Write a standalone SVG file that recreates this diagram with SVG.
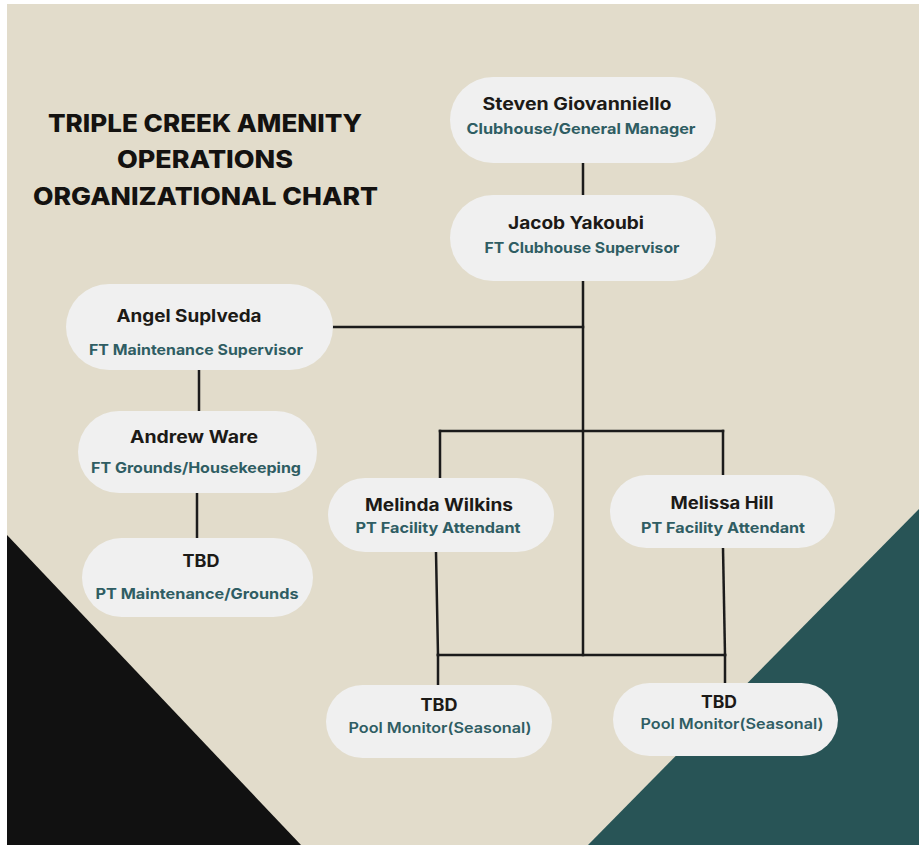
<svg xmlns="http://www.w3.org/2000/svg" width="922" height="845" viewBox="0 0 922 845">
<style>
.node rect{fill:#f0f0f0;}
.nm{font-family:Inter,"Liberation Sans",sans-serif;font-weight:700;font-size:17px;fill:#1c1a17;text-anchor:middle;}
.rl{font-family:Inter,"Liberation Sans",sans-serif;font-weight:700;font-size:14.5px;fill:#2f5d63;text-anchor:middle;}
.ttl{font-family:Inter,"Liberation Sans",sans-serif;font-weight:800;font-size:24px;fill:#141210;}
#connectors line{stroke:#1b1b1b;stroke-width:2.5;stroke-linecap:square;}
</style>
<rect x="0" y="0" width="922" height="845" fill="#ffffff"/>
<rect x="7" y="4" width="912" height="841" fill="#e2dccb"/>
<polygon points="7,535 7,845 301,845" fill="#111111"/>
<polygon points="919,509 919,845 588,845" fill="#285456"/>
<g id="title">
<text class="ttl" x="48" y="132" textLength="314" lengthAdjust="spacingAndGlyphs">TRIPLE CREEK AMENITY</text>
<text class="ttl" x="117" y="168" textLength="176" lengthAdjust="spacingAndGlyphs">OPERATIONS</text>
<text class="ttl" x="33" y="205" textLength="345" lengthAdjust="spacingAndGlyphs">ORGANIZATIONAL CHART</text>
</g>
<g id="connectors">
<line x1="583" y1="163" x2="583" y2="195"/>
<line x1="583" y1="281" x2="583" y2="655"/>
<line x1="333" y1="327" x2="583" y2="327"/>
<line x1="199" y1="370" x2="199" y2="410"/>
<line x1="197" y1="493" x2="197" y2="537"/>
<line x1="440" y1="431" x2="723" y2="431"/>
<line x1="440" y1="431" x2="440" y2="478"/>
<line x1="723" y1="431" x2="723" y2="476"/>
<line x1="436" y1="552" x2="438" y2="655"/>
<line x1="723" y1="548" x2="725" y2="655"/>
<line x1="438" y1="655" x2="725" y2="655"/>
<line x1="438" y1="655" x2="438" y2="685"/>
<line x1="725" y1="655" x2="725" y2="683"/>
</g>
<g id="steven" class="node">
<rect x="450" y="77" width="266" height="86" rx="43"/>
<text class="nm" x="577" y="110" textLength="189" lengthAdjust="spacingAndGlyphs">Steven Giovanniello</text>
<text class="rl" x="581" y="134" textLength="229" lengthAdjust="spacingAndGlyphs">Clubhouse/General Manager</text>
</g>
<g id="jacob" class="node">
<rect x="450" y="195" width="266" height="86" rx="43"/>
<text class="nm" x="576" y="229" textLength="136" lengthAdjust="spacingAndGlyphs">Jacob Yakoubi</text>
<text class="rl" x="582" y="253" textLength="195" lengthAdjust="spacingAndGlyphs">FT Clubhouse Supervisor</text>
</g>
<g id="angel" class="node">
<rect x="66" y="284" width="267" height="86" rx="43"/>
<text class="nm" x="189" y="322" textLength="145" lengthAdjust="spacingAndGlyphs">Angel Suplveda</text>
<text class="rl" x="196" y="355" textLength="214" lengthAdjust="spacingAndGlyphs">FT Maintenance Supervisor</text>
</g>
<g id="andrew" class="node">
<rect x="78" y="411" width="239" height="82" rx="41"/>
<text class="nm" x="194" y="443" textLength="128" lengthAdjust="spacingAndGlyphs">Andrew Ware</text>
<text class="rl" x="196" y="473" textLength="210" lengthAdjust="spacingAndGlyphs">FT Grounds/Housekeeping</text>
</g>
<g id="tbd-maint" class="node">
<rect x="82" y="538" width="231" height="79" rx="39.5"/>
<text class="nm" x="201" y="567" textLength="37" lengthAdjust="spacingAndGlyphs">TBD</text>
<text class="rl" x="197" y="599" textLength="203" lengthAdjust="spacingAndGlyphs">PT Maintenance/Grounds</text>
</g>
<g id="melinda" class="node">
<rect x="328" y="478" width="226" height="74" rx="37"/>
<text class="nm" x="439" y="511" textLength="148" lengthAdjust="spacingAndGlyphs">Melinda Wilkins</text>
<text class="rl" x="438" y="533" textLength="165" lengthAdjust="spacingAndGlyphs">PT Facility Attendant</text>
</g>
<g id="melissa" class="node">
<rect x="610" y="475" width="225" height="73" rx="36.5"/>
<text class="nm" x="722" y="509" textLength="103" lengthAdjust="spacingAndGlyphs">Melissa Hill</text>
<text class="rl" x="723" y="533" textLength="164" lengthAdjust="spacingAndGlyphs">PT Facility Attendant</text>
</g>
<g id="pool1" class="node">
<rect x="326" y="685" width="226" height="73" rx="36.5"/>
<text class="nm" x="439" y="711" textLength="37" lengthAdjust="spacingAndGlyphs">TBD</text>
<text class="rl" x="440" y="733" textLength="183" lengthAdjust="spacingAndGlyphs" style="font-weight:600">Pool Monitor(Seasonal)</text>
</g>
<g id="pool2" class="node">
<rect x="613" y="683" width="225" height="73" rx="36.5"/>
<text class="nm" x="719" y="708" textLength="36" lengthAdjust="spacingAndGlyphs">TBD</text>
<text class="rl" x="732" y="729" textLength="183" lengthAdjust="spacingAndGlyphs" style="font-weight:600">Pool Monitor(Seasonal)</text>
</g>
</svg>
